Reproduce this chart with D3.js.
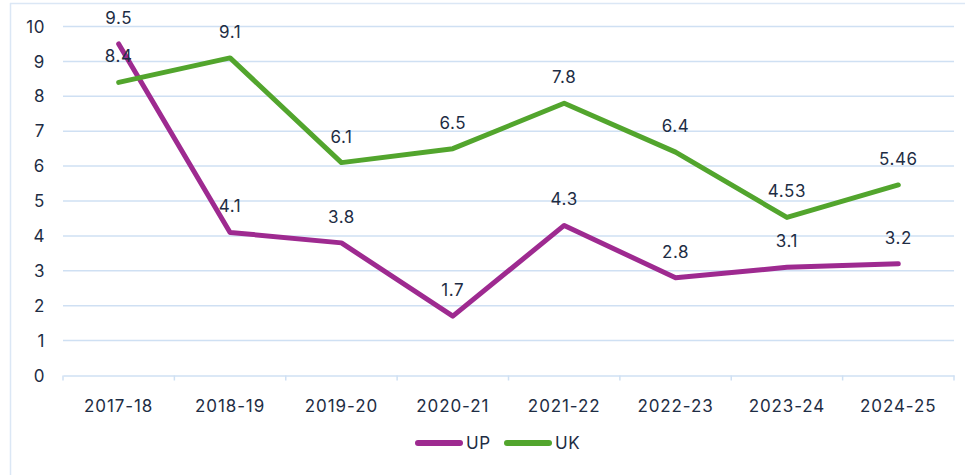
<!DOCTYPE html>
<html>
<head>
<meta charset="utf-8">
<script src="https://cdn.jsdelivr.net/npm/d3@7"></script>
<style>
  body { margin: 0; background: #fff; }
  svg text { font-family: Inter, "Open Sans", sans-serif; fill: #1e2d44; letter-spacing: 0.6px; }
</style>
</head>
<body>
<svg id="svgChart" width="965" height="475"></svg>
<script>
// data
const years = ["2017-18", "2018-19", "2019-20", "2020-21", "2021-22", "2022-23", "2023-24", "2024-25"];
const upValues = [9.5, 4.1, 3.8, 1.7, 4.3, 2.8, 3.1, 3.2];
const ukValues = [8.4, 9.1, 6.1, 6.5, 7.8, 6.4, 4.53, 5.46];
const yTicks = [0, 1, 2, 3, 4, 5, 6, 7, 8, 9, 10];

const series = [
    { name: "UP", values: upValues, color: "#9e2a90" },
    { name: "UK", values: ukValues, color: "#52a52d" }
];

const grid = "#cfe0f3";

const initChart = () => {
    var svg = d3.select("#svgChart");

    // outer frame (top + left only visible)
    svg.append("line").attr("x1", 10).attr("x2", 965).attr("y1", 3.5).attr("y2", 3.5)
        .attr("stroke", "#dbe7f5").attr("stroke-width", 1.5);
    svg.append("line").attr("x1", 10.5).attr("x2", 10.5).attr("y1", 3).attr("y2", 475)
        .attr("stroke", "#dbe7f5").attr("stroke-width", 1.5);

    var x_scale = d3.scaleBand().domain(years).range([63, 954]);
    var y_scale = d3.scaleLinear().domain([0, 10]).range([375.5, 26.5]);

    // gridlines
    svg.append("g").selectAll("line")
        .data(yTicks.filter(d => d > 0))
        .join("line")
        .attr("x1", 63).attr("x2", 954)
        .attr("y1", d => y_scale(d)).attr("y2", d => y_scale(d))
        .attr("stroke", grid).attr("stroke-width", 1.5);

    // y labels
    svg.append("g").selectAll("text")
        .data(yTicks)
        .join("text")
        .attr("x", 45)
        .attr("y", d => y_scale(d))
        .attr("dy", "0.36em")
        .attr("text-anchor", "end")
        .style("font-size", "17px")
        .text(d => d);

    // x axis
    var xAxis = svg.append("g")
        .attr("transform", "translate(0," + y_scale(0) + ")")
        .call(d3.axisBottom(x_scale).tickSize(0).tickPadding(24));
    xAxis.select(".domain").attr("stroke", grid).attr("stroke-width", 1.5);
    xAxis.selectAll("text").style("font-size", "17px").style("fill", "#1e2d44")
        .style("letter-spacing", "0.9px")
        .attr("font-family", null);

    // tick marks between categories
    var edges = years.map(d => x_scale(d)).concat([x_scale.range()[1]]);
    svg.append("g").selectAll("line")
        .data(edges)
        .join("line")
        .attr("x1", d => d).attr("x2", d => d)
        .attr("y1", y_scale(0)).attr("y2", y_scale(0) + 5)
        .attr("stroke", grid).attr("stroke-width", 1.5);

    var cx = d => x_scale(d) + x_scale.bandwidth() / 2;

    var line = d3.line()
        .x((d, i) => cx(years[i]))
        .y(d => y_scale(d));

    series.forEach(function(s) {
        svg.append("path")
            .datum(s.values)
            .attr("d", line)
            .attr("fill", "none")
            .attr("stroke", s.color)
            .attr("stroke-width", 5)
            .attr("stroke-linecap", "round")
            .attr("stroke-linejoin", "round");
    });

    series.forEach(function(s) {
        svg.append("g").selectAll("text")
            .data(s.values)
            .join("text")
            .attr("x", (d, i) => cx(years[i]))
            .attr("y", d => y_scale(d) - 20)
            .attr("text-anchor", "middle")
            .style("font-size", "17px")
            .text(d => d);
    });

    // legend
    var legend = svg.append("g").attr("transform", "translate(415,443)");
    var lx = 0;
    series.forEach(function(s) {
        legend.append("line")
            .attr("x1", lx + 3).attr("x2", lx + 45)
            .attr("y1", 0).attr("y2", 0)
            .attr("stroke", s.color).attr("stroke-width", 6)
            .attr("stroke-linecap", "round");
        legend.append("text")
            .attr("x", lx + 51)
            .attr("y", 0)
            .attr("dy", "0.36em")
            .style("font-size", "17px")
            .text(s.name);
        lx += 89;
    });
};

initChart();
</script>
</body>
</html>
